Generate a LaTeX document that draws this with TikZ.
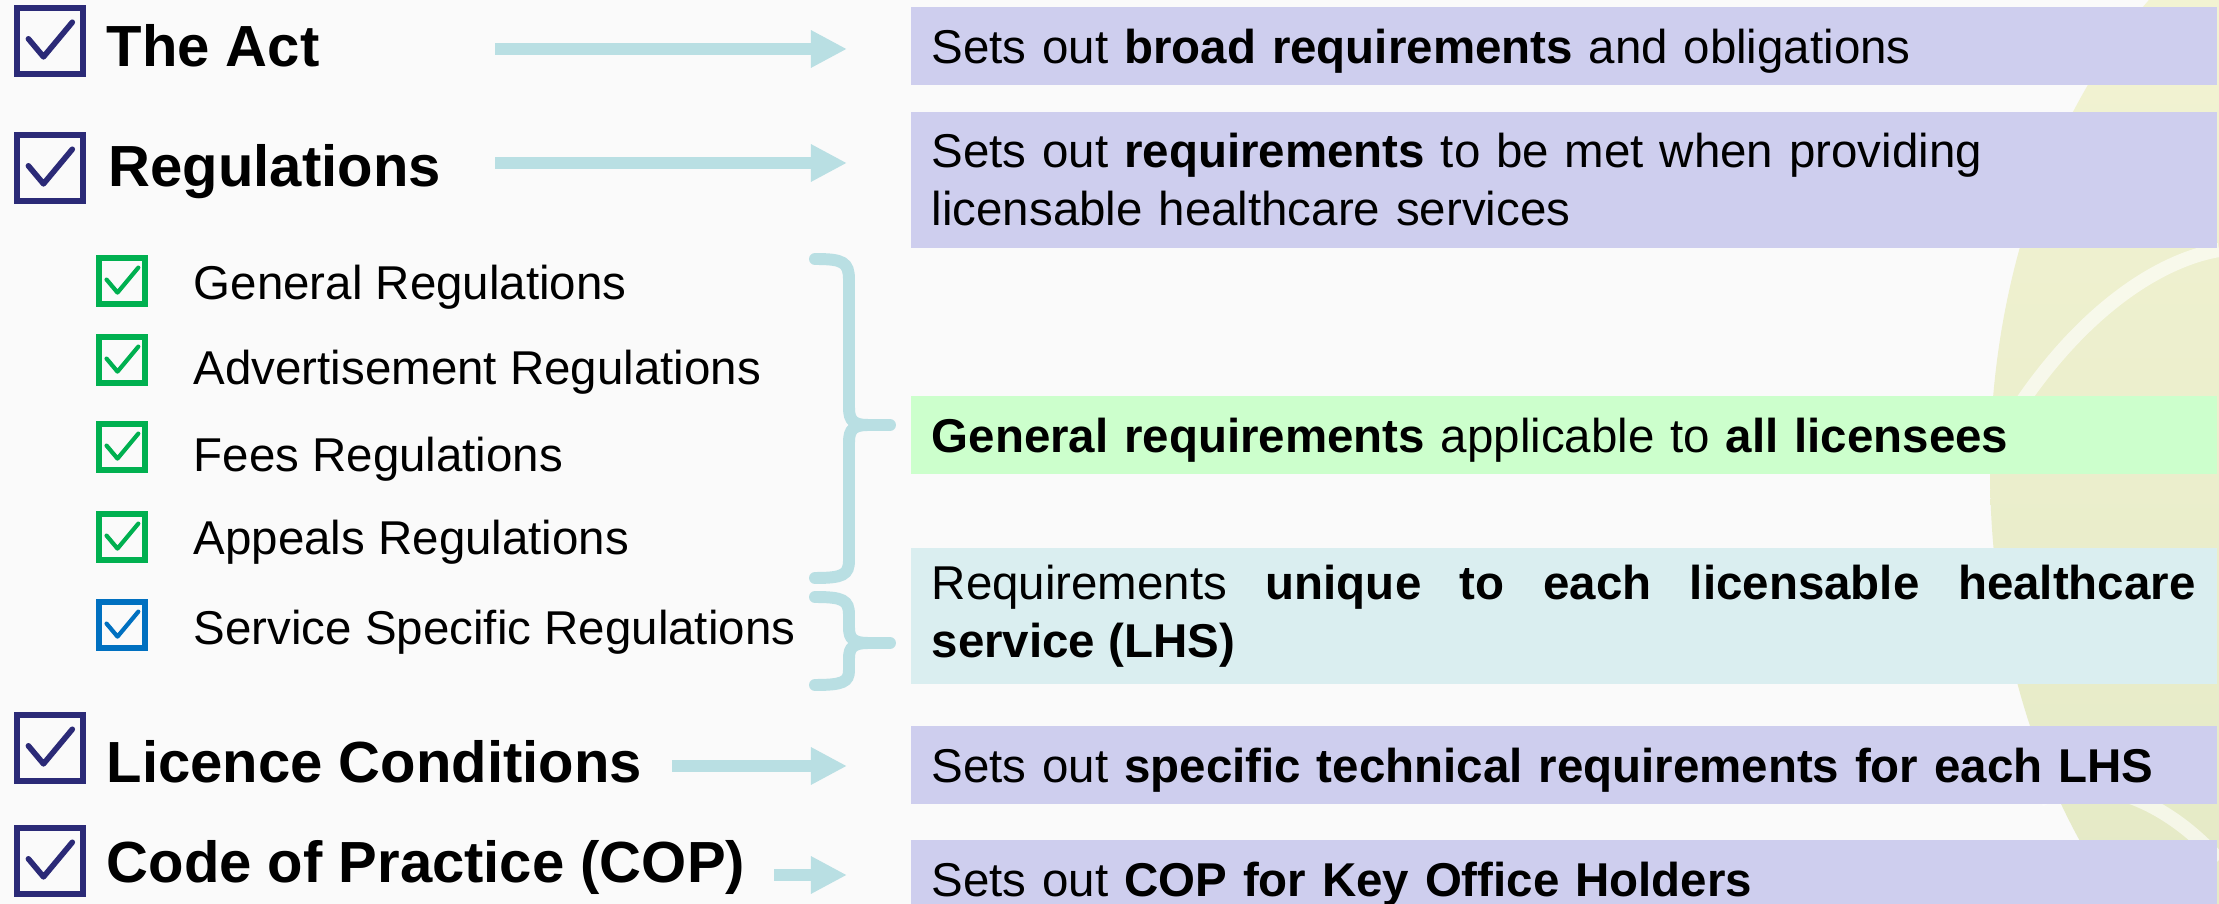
\documentclass[tikz,border=0pt]{standalone}
\usepackage{fontspec}
\setmainfont{Liberation Sans}
\usetikzlibrary{arrows.meta, positioning}

\definecolor{navy}{RGB}{43,42,119}
\definecolor{tickgreen}{RGB}{0,176,80}
\definecolor{tickblue}{RGB}{0,112,192}
\definecolor{aqua}{RGB}{185,223,227}
\definecolor{lavender}{RGB}{206,206,238}
\definecolor{mint}{RGB}{204,255,204}
\definecolor{paleaqua}{RGB}{218,238,240}
\definecolor{pagebg}{RGB}{250,250,250}
\definecolor{wmtop}{RGB}{244,244,212}
\definecolor{wmbottom}{RGB}{226,232,196}

\newcommand{\headfont}{\fontsize{16.5}{20}\selectfont\bfseries}
\newcommand{\bodyfont}{\fontsize{13.5}{16.5}\selectfont}

% tick inside a check box: node, outer size (px), line options
\newcommand{\tickin}[3]{%
  \draw[#3, line cap=round, line join=round]
    ([shift={(0.2*#2,0.47*#2)}]#1.north west) --
    ([shift={(0.41*#2,0.72*#2)}]#1.north west) --
    ([shift={(0.81*#2,0.24*#2)}]#1.north west);}

\begin{document}
\begin{tikzpicture}[
    x=0.01cm, y=-0.01cm,
    bigbox/.style={draw=navy, line width=1.7pt, minimum size=0.66cm, inner sep=0pt},
    subbox/.style={line width=1.6pt, minimum size=0.46cm, inner sep=0pt},
    head/.style={anchor=base west, inner sep=0pt, font=\headfont},
    subtext/.style={anchor=base west, inner sep=0pt, font=\bodyfont},
    desc/.style={anchor=north west, fill=#1, inner xsep=0.21cm, inner ysep=0pt,
                 text width=12.63cm, align=left, font=\bodyfont},
    oneline/.style={minimum height=0.78cm, text height=0.36cm, text depth=0pt},
    twoline/.style={minimum height=1.36cm},
    flow/.style={draw=aqua, line width=3.4pt, shorten >=0.63cm,
                 -{Triangle[length=0.36cm, width=0.35cm]}},
    curly/.style={draw=aqua, line width=3.4pt, line cap=round}
]

% Background and watermark
\fill[pagebg] (0,0) rectangle (2219,904);
\useasboundingbox (0,0) rectangle (2219,904);
\shade[top color=wmtop, bottom color=wmbottom] (2410,470) ellipse [x radius=420, y radius=600];
\draw[white, line width=4pt, opacity=0.6] (2010,420) .. controls (2080,310) and (2160,260) .. (2219,250);
\draw[white, line width=4pt, opacity=0.6] (2040,800) .. controls (2100,770) and (2170,805) .. (2219,860);

% Main items
\node[bigbox] (c1) at (50,41) {};
\node[bigbox] (c2) at (50,168) {};
\node[bigbox] (c3) at (50,748) {};
\node[bigbox] (c4) at (50,861) {};
\foreach \c in {c1,c2,c3,c4} {\tickin{\c}{72}{navy, line width=1.6pt}}

\node[head] (act) at (106,67) {The Act};
\node[head] (regs) at (108,187) {Regulations};
\node[head] (cond) at (106,782) {Licence Conditions};
\node[head] (cop) at (106,882) {Code of Practice (COP)};

% Regulation sub-items
\foreach \y/\base/\col/\txt [count=\i] in {
    281/300/tickgreen/General Regulations,
    360/385/tickgreen/Advertisement Regulations,
    447/472/tickgreen/Fees Regulations,
    537/555/tickgreen/Appeals Regulations,
    625/645/tickblue/Service Specific Regulations} {
  \node[subbox, draw=\col] (s\i) at (122,\y) {};
  \tickin{s\i}{52}{\col, line width=1.2pt}
  \node[subtext] (t\i) at (193,\base) {\txt};
}

% Description boxes
\node[desc=lavender, oneline] (actbox) at (910,6)
  {Sets out \textbf{broad requirements} and obligations};
\node[desc=lavender, twoline] (regbox) at (910,111)
  {Sets out \textbf{requirements} to be met when providing\\ licensable healthcare services};
\node[desc=mint, oneline] (genbox) at (910,395)
  {\textbf{General requirements} applicable to \textbf{all licensees}};
\node[desc=paleaqua, twoline, align=justify] (lhsbox) at (910,547)
  {Requirements \textbf{unique to each licensable healthcare}\linebreak \textbf{service (LHS)}};
\node[desc=lavender, oneline] (condbox) at (910,725)
  {Sets out \textbf{specific technical requirements for each LHS}};
\node[desc=lavender, oneline] (copbox) at (910,839)
  {Sets out \textbf{COP for Key Office Holders}};

% Arrows
\coordinate (a1) at (495,49);
\coordinate (a2) at (495,163);
\coordinate (a3) at (672,766);
\coordinate (a4) at (774,875);
\draw[flow] (a1) -- (a1 -| actbox.west);
\draw[flow] (a2) -- (a2 -| regbox.west);
\draw[flow] (a3) -- (a3 -| condbox.west);
\draw[flow] (a4) -- (a4 -| copbox.west);

% Braces
\draw[curly] (815,259) .. controls (843,259) and (849,262) .. (849,280) -- (849,408)
  .. controls (849,421) and (854,425) .. (868,425) -- (890,425);
\draw[curly] (868,425) .. controls (854,425) and (849,429) .. (849,442) -- (849,560)
  .. controls (849,575) and (843,578) .. (815,578);
\draw[curly] (815,597) .. controls (843,597) and (849,600) .. (849,615) -- (849,628)
  .. controls (849,639) and (854,643) .. (868,643) -- (890,643);
\draw[curly] (868,643) .. controls (854,643) and (849,647) .. (849,658) -- (849,670)
  .. controls (849,682) and (843,685) .. (815,685);

\end{tikzpicture}
\end{document}
